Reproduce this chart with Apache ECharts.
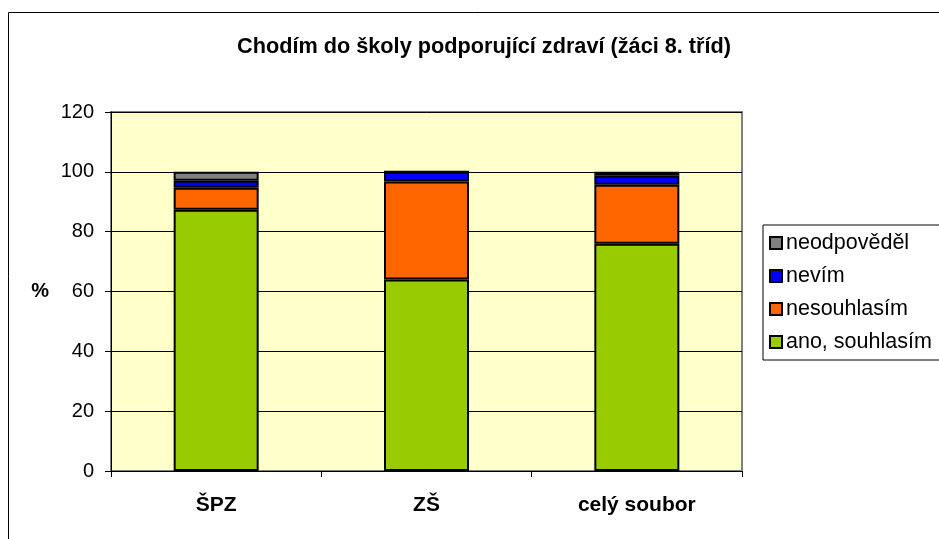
<!DOCTYPE html>
<html>
<head>
<meta charset="utf-8">
<script src="https://cdn.jsdelivr.net/npm/echarts@6/dist/echarts.min.js"></script>
<style>
  html, body { margin: 0; padding: 0; background: #fff; }
  #chart { width: 939px; height: 539px; }
</style>
</head>
<body>
<div id="chart"></div>
<script>
var categories = ['ŠPZ', 'ZŠ', 'celý soubor'];
var seriesNames = ['ano, souhlasím', 'nesouhlasím', 'nevím', 'neodpověděl'];
var ano = [87.3, 64, 76];
var nesouhlasim = [7.4, 32.8, 19.7];
var nevim = [2.3, 3.2, 3.0];
var neodpovedel = [3.0, 0, 1.3];
var colors = ['#99cc00', '#ff6600', '#0000ff', '#808080'];

var myChart = echarts.init(document.getElementById('chart'));
var values = [ano, nesouhlasim, nevim, neodpovedel];
var series = [];
for (var i = 0; i < seriesNames.length; i++) {
  series.push({
    name: seriesNames[i],
    type: 'bar',
    stack: 'total',
    barWidth: 85,
    data: values[i],
    itemStyle: { color: colors[i], borderColor: '#000', borderWidth: 2 }
  });
}

var option = {
  animation: false,
  backgroundColor: '#fff',
  textStyle: { fontFamily: 'Liberation Sans, Arial, sans-serif' },
  title: {
    text: 'Chodím do školy podporující zdraví (žáci 8. tříd)',
    left: 479, top: 31, textAlign: 'center',
    textStyle: { fontSize: 21.7, fontWeight: 'bold', color: '#000' }
  },
  graphic: [{
    type: 'rect',
    shape: { x: 8.5, y: 12.5, width: 960, height: 560 },
    style: { fill: 'none', stroke: '#000', lineWidth: 1 },
    silent: true
  }],
  legend: {
    orient: 'vertical',
    left: 763, top: 225,
    width: 190,
    data: seriesNames.slice().reverse(),
    itemWidth: 12, itemHeight: 12, itemGap: 11,
    padding: [7, 30, 7, 6],
    borderColor: '#000', borderWidth: 1,
    icon: 'rect',
    itemStyle: { borderColor: '#000', borderWidth: 2 },
    textStyle: { fontSize: 21.5, color: '#000', padding: [0, 0, 0, -1] }
  },
  grid: {
    left: 111, top: 112, width: 631, height: 359,
    show: true, backgroundColor: '#ffffcc', borderColor: '#808080', borderWidth: 2
  },
  xAxis: {
    type: 'category',
    data: categories,
    axisLine: { lineStyle: { color: '#000', width: 1 } },
    axisTick: { show: true, length: 6, lineStyle: { color: '#000' } },
    axisLabel: { fontSize: 21, fontWeight: 'bold', color: '#000', margin: 24 }
  },
  yAxis: {
    type: 'value',
    min: 0, max: 120, interval: 20,
    name: '%',
    nameLocation: 'middle',
    nameRotate: 0,
    nameGap: 62,
    nameTextStyle: { fontSize: 20, fontWeight: 'bold', color: '#000' },
    axisLine: { show: true, lineStyle: { color: '#000', width: 1 } },
    axisTick: { show: true, length: 6, lineStyle: { color: '#000' } },
    splitLine: { lineStyle: { color: '#000', width: 1 } },
    axisLabel: { fontSize: 20, color: '#000', margin: 17 }
  },
  series: series
};
myChart.setOption(option);
</script>
</body>
</html>
